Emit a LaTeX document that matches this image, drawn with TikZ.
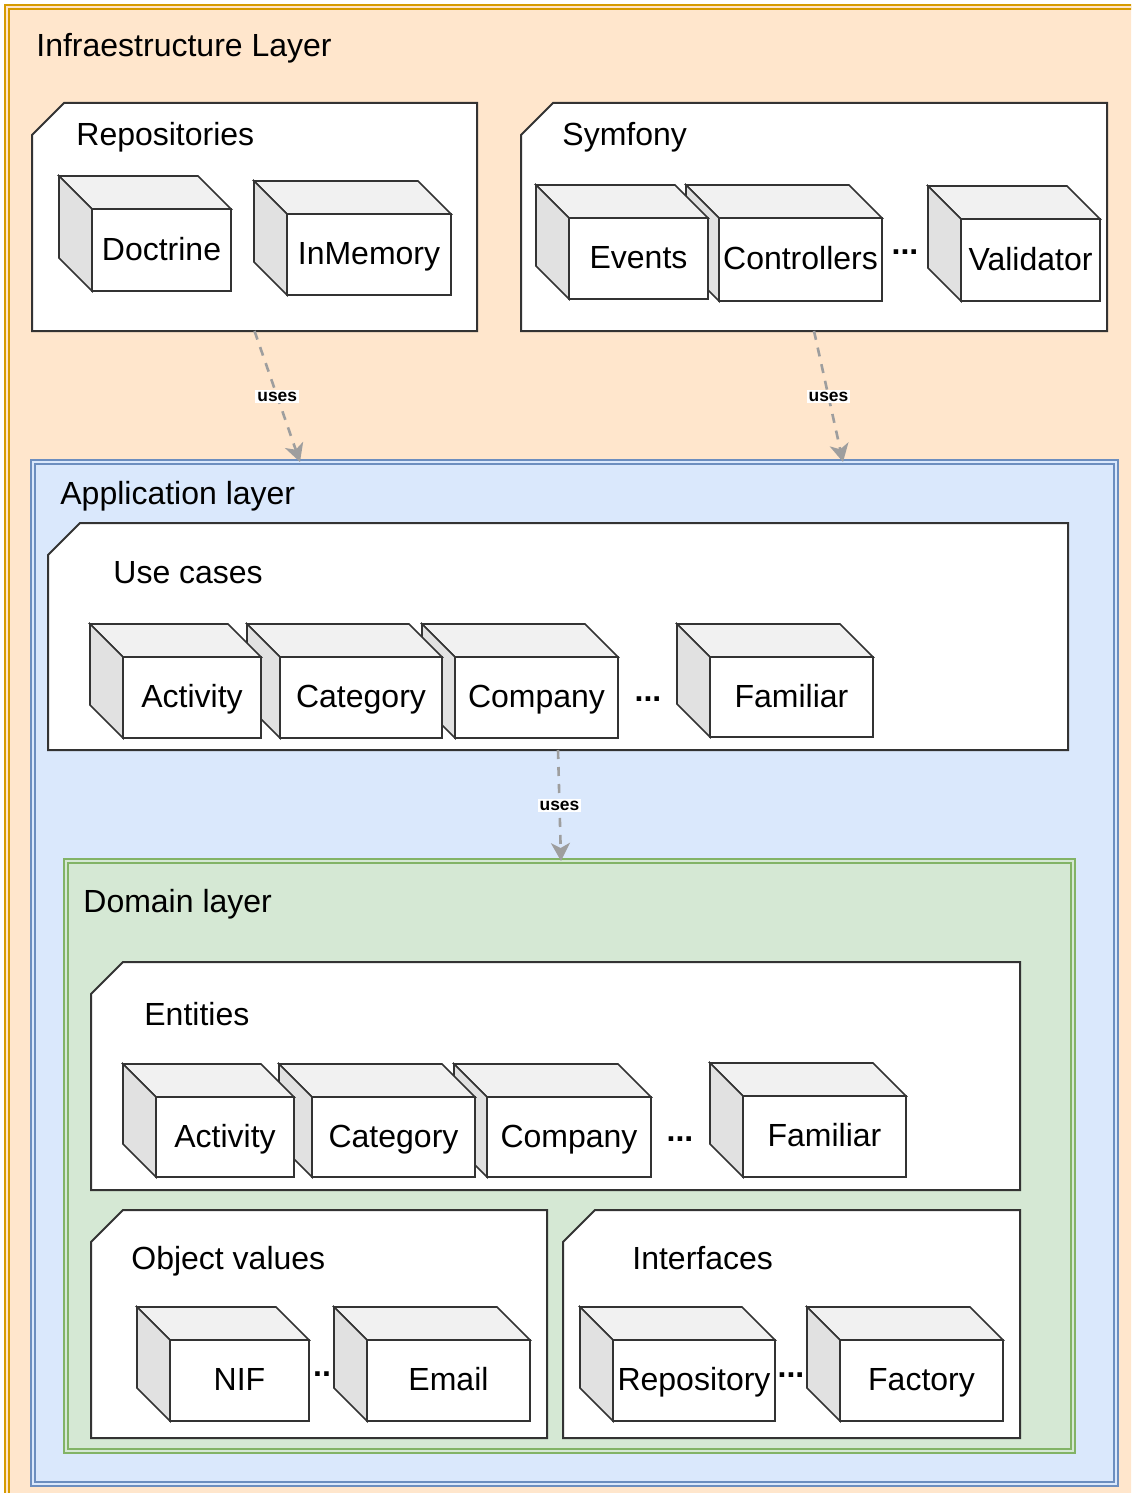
\documentclass[tikz,border=0pt]{standalone}
\usepackage{fontspec}
\setmainfont{Liberation Sans}
\usetikzlibrary{arrows.meta}

\definecolor{infrafill}{HTML}{FFE6CC}
\definecolor{infraline}{HTML}{D79B00}
\definecolor{appfill}{HTML}{DAE8FC}
\definecolor{appline}{HTML}{6C8EBF}
\definecolor{domfill}{HTML}{D5E8D4}
\definecolor{domline}{HTML}{82B366}
\definecolor{cubetopc}{HTML}{F1F1F1}
\definecolor{cubesidec}{HTML}{E1E1E1}
\definecolor{edgec}{HTML}{333333}
\definecolor{usesc}{HTML}{9E9E9E}

\newcommand\cubedepth{16.5pt}

\tikzset{
  layer/.style={rectangle, inner sep=0pt, outer sep=0pt, line width=0.8pt,
    double distance=1pt, anchor=north west},
  layertitle/.style={anchor=base west, inner sep=0pt, font=\fontsize{16}{19}\selectfont},
  pkg/.style={fill=white, draw=edgec, line width=1pt},
  pkgbox/.style={rectangle, inner sep=0pt, outer sep=0pt, draw=none, anchor=north west},
  cubefront/.style={rectangle, draw=edgec, fill=white, line width=0.8pt,
    inner sep=0pt, outer sep=0pt, text height=10pt, text depth=0pt,
    font=\fontsize{16}{19}\selectfont, anchor=north west},
  cubeface/.style={draw=edgec, line width=0.8pt},
  more/.style={inner sep=0pt, font=\bfseries\fontsize{16}{19}\selectfont},
  uses/.style={draw=usesc, line width=1.3pt, dash pattern=on 4.5pt off 4pt,
    -{Stealth[length=9pt,width=9.5pt,inset=2.5pt]}},
  useslabel/.style={fill=white, inner sep=1pt, text=black,
    font=\bfseries\fontsize{8.7}{10}\selectfont},
}

% a box drawn as a cube: front face node plus top and left faces
\newcommand\drawcube[6]{%
  \node[cubefront, minimum width={(#4-#2)*0.5pt}, minimum height={(#5-#3)*0.5pt}] (#1) at (#2,#3) {#6};
  \filldraw[cubeface, fill=cubetopc] (#1.north west) -- ++(-\cubedepth,\cubedepth)
    -- ([xshift=-\cubedepth,yshift=\cubedepth]#1.north east) -- (#1.north east) -- cycle;
  \filldraw[cubeface, fill=cubesidec] (#1.north west) -- ++(-\cubedepth,\cubedepth)
    -- ([xshift=-\cubedepth,yshift=\cubedepth]#1.south west) -- (#1.south west) -- cycle;
}

% a package frame with a cut top-left corner
\newcommand\pkgframe[5]{%
  \node[pkgbox, minimum width={(#4-#2)*0.5pt}, minimum height={(#5-#3)*0.5pt}] (#1) at (#2,#3) {};
  \filldraw[pkg] (#1.south west) -- (#1.south east) -- (#1.north east)
    -- ([xshift=16pt]#1.north west) -- ([yshift=-16pt]#1.north west) -- cycle;
}

\begin{document}
\begin{tikzpicture}[x=0.5pt,y=-0.5pt]
\useasboundingbox (0,0) rectangle (1131,1493);
\clip (0,0) rectangle (1131,1493);

% ---------------- infrastructure layer ----------------
\node[layer, draw=infraline, double=infrafill, fill=infrafill,
  minimum width={1140*0.5pt}, minimum height={1500*0.5pt}] (infra) at (7,7) {};
\node[layertitle] (t-infra) at (36,57) {Infraestructure Layer};

\pkgframe{repo}{32}{103}{477}{331}
\node[layertitle] (t-repo) at (76,146) {Repositories};
\drawcube{doctrine}{92}{209}{231}{291}{Doctrine}
\drawcube{inmemory}{287}{214}{451}{295}{InMemory}

\pkgframe{symf}{521}{103}{1107}{331}
\node[layertitle] (t-symf) at (562,146) {Symfony};
\drawcube{validator}{961}{219}{1100}{301}{Validator}
\drawcube{controllers}{719}{218}{882}{301}{Controllers}
\drawcube{events}{569}{218}{708}{299}{Events}
\node[more] (more-symf) at (905,252) {...};

% ---------------- application layer ----------------
\node[layer, draw=appline, double=appfill, fill=appfill,
  minimum width={1083*0.5pt}, minimum height={1022*0.5pt}] (app) at (33,462) {};
\node[layertitle] (t-app) at (60,504) {Application layer};

\pkgframe{uc}{48}{523}{1068}{750}
\node[layertitle] (t-uc) at (113,583) {Use cases};
\drawcube{uc-familiar}{710}{657}{873}{737}{Familiar}
\drawcube{uc-company}{455}{657}{618}{738}{Company}
\drawcube{uc-category}{280}{657}{442}{738}{Category}
\drawcube{uc-activity}{123}{657}{261}{738}{Activity}
\node[more] (more-uc) at (648,699) {...};

% ---------------- domain layer ----------------
\node[layer, draw=domline, double=domfill, fill=domfill,
  minimum width={1007*0.5pt}, minimum height={590*0.5pt}] (dom) at (66,861) {};
\node[layertitle] (t-dom) at (83,912) {Domain layer};

\pkgframe{ent}{91}{962}{1020}{1190}
\node[layertitle] (t-ent) at (144,1025) {Entities};
\drawcube{ent-familiar}{743}{1096}{906}{1177}{Familiar}
\drawcube{ent-company}{487}{1097}{651}{1177}{Company}
\drawcube{ent-category}{312}{1097}{475}{1177}{Category}
\drawcube{ent-activity}{156}{1097}{294}{1177}{Activity}
\node[more] (more-ent) at (680,1139) {...};

\pkgframe{ov}{91}{1210}{547}{1438}
\node[layertitle] (t-ov) at (131,1269) {Object values};
\drawcube{nif}{170}{1340}{309}{1421}{NIF}
\drawcube{email}{367}{1340}{530}{1421}{Email}
\node[more] (more-ov) at (322,1374) {..};

\pkgframe{intf}{563}{1210}{1020}{1438}
\node[layertitle] (t-intf) at (632,1269) {Interfaces};
\drawcube{factory}{840}{1340}{1003}{1421}{Factory}
\drawcube{repository}{613}{1340}{775}{1421}{Repository}
\node[more] (more-intf) at (791,1375) {...};

% ---------------- dependencies ----------------
\coordinate (app-in-repo) at (300,462);
\coordinate (app-in-symf) at (843,462);
\coordinate (dom-in-uc) at (561,861);
\draw[uses] (repo.south) -- node[useslabel] (l-repo) {uses} (app-in-repo);
\draw[uses] (symf.south) -- node[useslabel] (l-symf) {uses} (app-in-symf);
\draw[uses] (uc.south) -- node[useslabel] (l-uc) {uses} (dom-in-uc);
\end{tikzpicture}
\end{document}
